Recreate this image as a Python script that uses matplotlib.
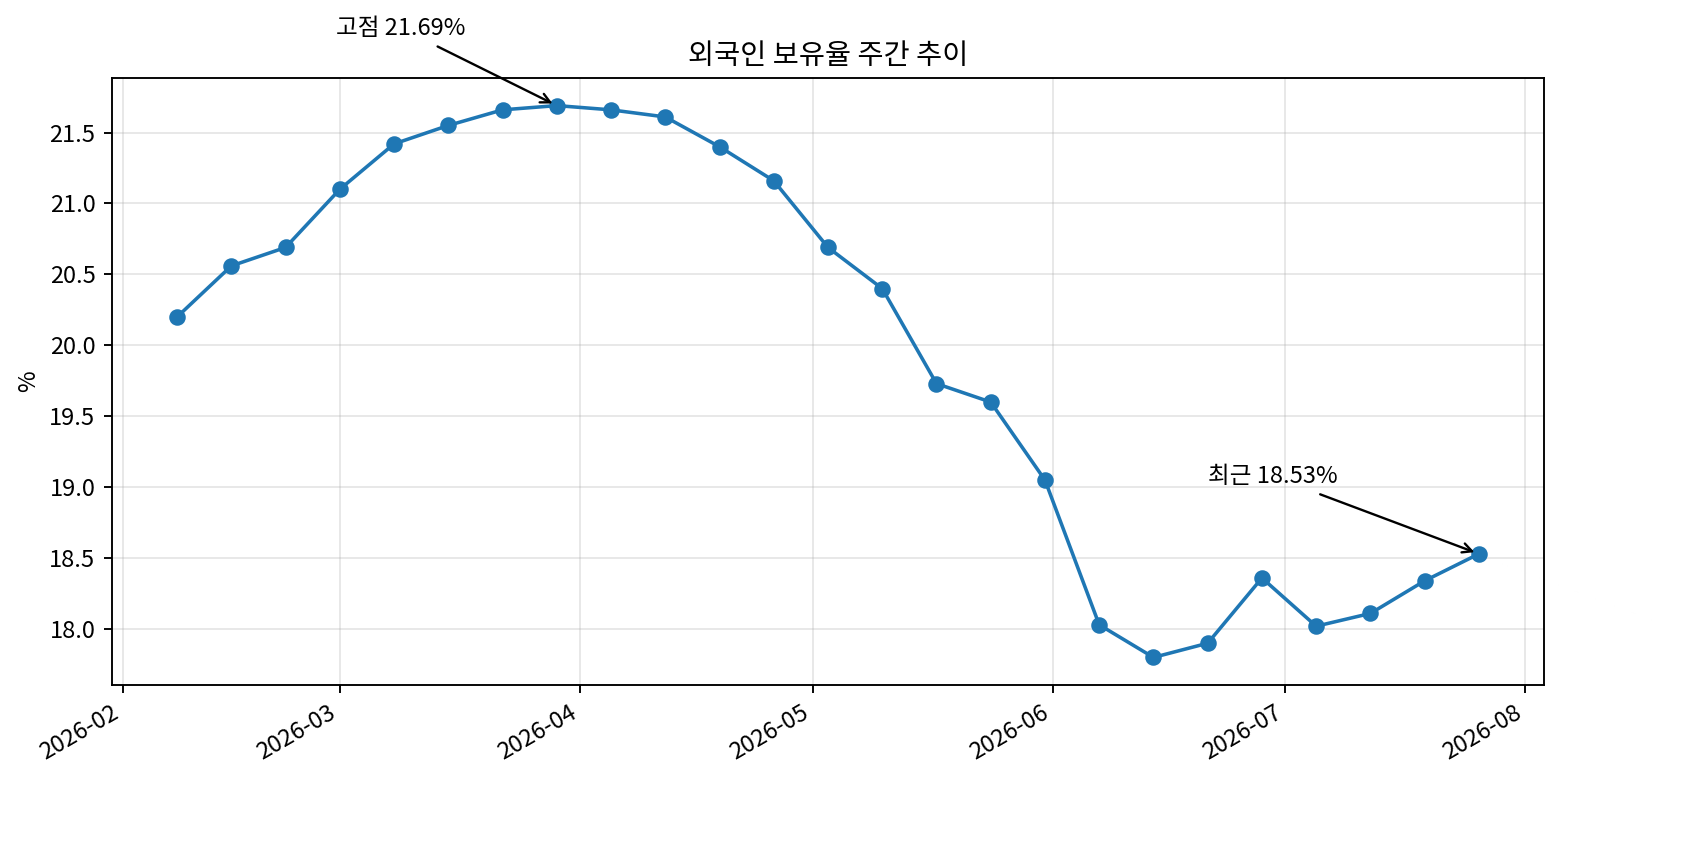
import matplotlib
matplotlib.use("Agg")
import matplotlib.pyplot as plt
import pandas as pd

plt.rcParams['font.family'] = ['Noto Sans CJK KR', 'DejaVu Sans']
plt.rcParams['axes.unicode_minus'] = False

dates = pd.date_range("2026-02-08", periods=25, freq="7D")
values = [20.20, 20.56, 20.69, 21.10, 21.42, 21.55, 21.66, 21.69, 21.66, 21.61,
          21.40, 21.16, 20.69, 20.40, 19.73, 19.60, 19.05, 18.03, 17.80, 17.90,
          18.36, 18.02, 18.11, 18.34, 18.53]
title = "외국인 보유율 주간 추이"
ylabel = "%"

fig, ax = plt.subplots(figsize=(10, 5), dpi=170)
ax.plot(dates, values, marker="o", color="#1f77b4")
ax.set_title(title, fontsize=12)
ax.set_ylabel(ylabel)
ax.grid(True, alpha=0.3)

imax = max(range(len(values)), key=lambda i: values[i])
ax.annotate(f"고점 {values[imax]:.2f}%", xy=(dates[imax], values[imax]),
            xytext=(dates[imax] - pd.Timedelta(days=28.5), values[imax] + 0.5),
            arrowprops=dict(arrowstyle="->", color="black"), annotation_clip=False)
ax.annotate(f"최근 {values[-1]:.2f}%", xy=(dates[-1], values[-1]),
            xytext=(dates[-1] - pd.Timedelta(days=35), values[-1] + 0.5),
            arrowprops=dict(arrowstyle="->", color="black"))

fig.autofmt_xdate()
fig.subplots_adjust(left=112/1700, right=1544/1700, top=1-78/850, bottom=1-685/850)
fig.savefig("out.png", dpi=170)
